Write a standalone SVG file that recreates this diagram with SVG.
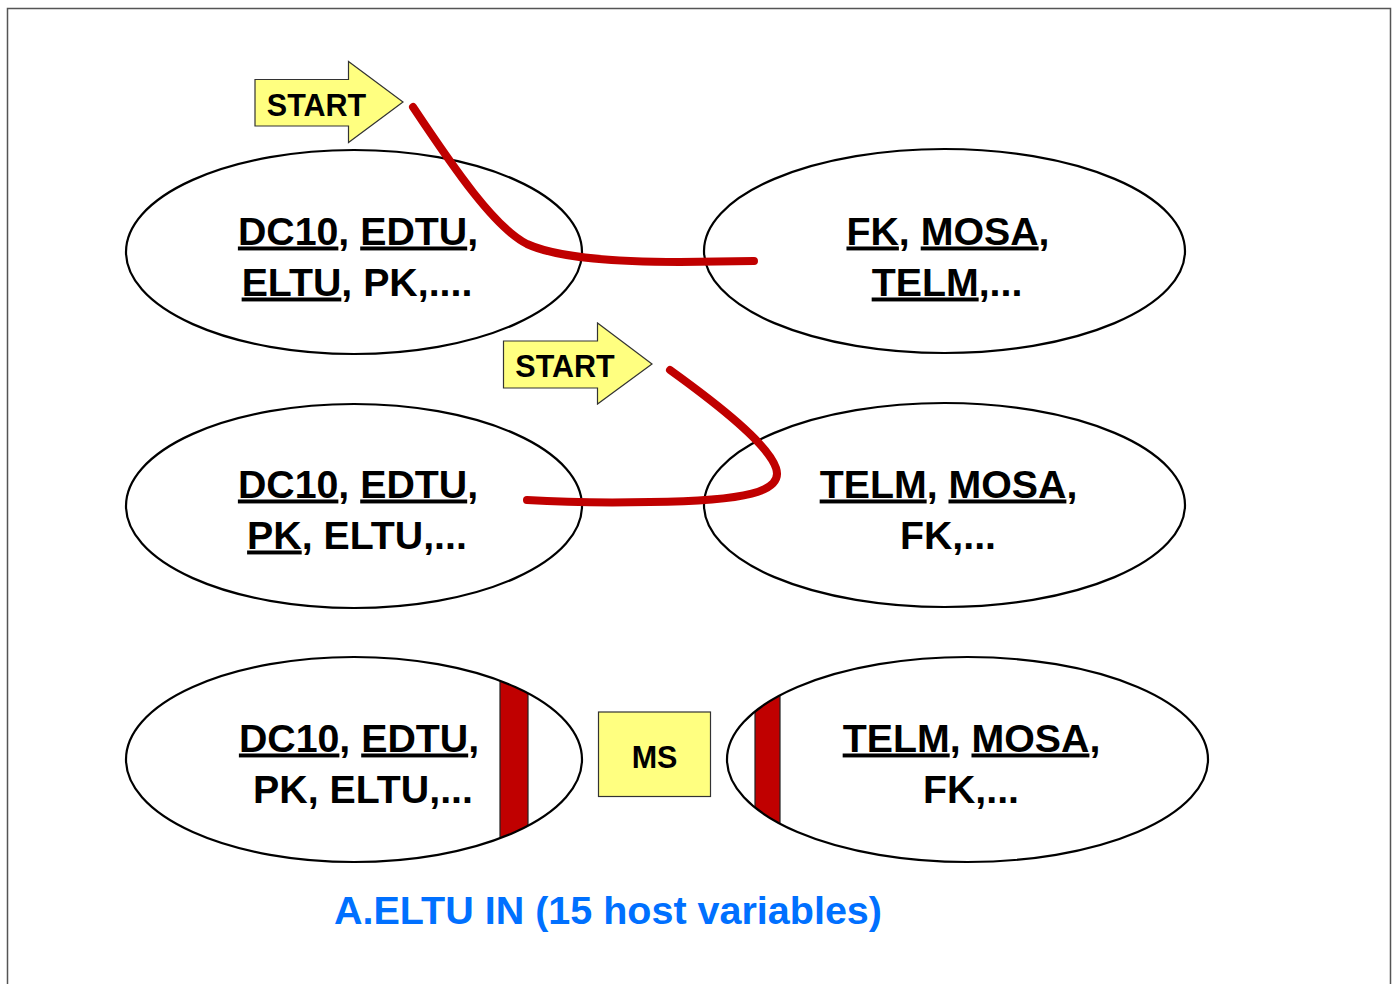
<svg xmlns="http://www.w3.org/2000/svg" width="1396" height="984" viewBox="0 0 1396 984">
  <style>
    .oval { fill: none; stroke: #000; stroke-width: 2.2; }
    .lbl { font-family: "Liberation Sans", Arial, sans-serif; font-weight: bold; font-size: 39.3px; fill: #000; text-anchor: middle; }
    .u { text-decoration: underline; }
    .note { font-family: "Liberation Sans", Arial, sans-serif; font-weight: bold; font-size: 39.5px; fill: #0070FF; text-anchor: middle; }
    .tag { fill: #FFFF80; stroke: #333; stroke-width: 1.2; }
    .tagtxt { font-family: "Liberation Sans", Arial, sans-serif; font-weight: bold; font-size: 30.5px; fill: #000; text-anchor: middle; }
    .trace { fill: none; stroke: #C00000; stroke-width: 8; stroke-linecap: round; stroke-linejoin: round; }
    .bar { fill: #C00000; stroke: #222; stroke-width: 1.2; }
  </style>
  <defs>
    <clipPath id="clipL3"><ellipse cx="354" cy="759.5" rx="228" ry="102.5"/></clipPath>
    <clipPath id="clipR3"><ellipse cx="967.5" cy="759.5" rx="240.5" ry="102.5"/></clipPath>
  </defs>

  <rect width="1396" height="984" fill="#fff"/>
  <!-- page frame -->
  <path d="M7.5,990 V8.5 H1390.5 V990" fill="none" stroke="#555" stroke-width="1.5"/>

  <!-- row 1 -->
  <g id="row1-left">
    <ellipse class="oval" cx="354" cy="252" rx="228" ry="102"/>
    <text class="lbl" x="358" y="244.5"><tspan class="u">DC10</tspan>, <tspan class="u">EDTU</tspan>,</text>
    <text class="lbl" x="357" y="295.5"><tspan class="u">ELTU</tspan>, PK,....</text>
  </g>
  <g id="row1-right">
    <ellipse class="oval" cx="944.5" cy="251" rx="240.5" ry="102"/>
    <text class="lbl" x="948" y="244.5"><tspan class="u">FK</tspan>, <tspan class="u">MOSA</tspan>,</text>
    <text class="lbl" x="947" y="295.5"><tspan class="u">TELM</tspan>,...</text>
  </g>

  <!-- row 2 -->
  <g id="row2-left">
    <ellipse class="oval" cx="354" cy="506" rx="228" ry="102"/>
    <text class="lbl" x="358" y="497.5"><tspan class="u">DC10</tspan>, <tspan class="u">EDTU</tspan>,</text>
    <text class="lbl" x="357" y="548.5"><tspan class="u">PK</tspan>, ELTU,...</text>
  </g>
  <g id="row2-right">
    <ellipse class="oval" cx="944.5" cy="505" rx="240.5" ry="102"/>
    <text class="lbl" x="948.5" y="497.5"><tspan class="u">TELM</tspan>, <tspan class="u">MOSA</tspan>,</text>
    <text class="lbl" x="948" y="548.5">FK,...</text>
  </g>

  <!-- row 3 -->
  <g id="row3-left">
    <rect class="bar" x="500" y="670" width="28" height="180" clip-path="url(#clipL3)"/>
    <ellipse class="oval" cx="354" cy="759.5" rx="228" ry="102.5"/>
    <text class="lbl" x="359" y="751.5"><tspan class="u">DC10</tspan>, <tspan class="u">EDTU</tspan>,</text>
    <text class="lbl" x="363" y="802.5">PK, ELTU,...</text>
  </g>
  <g id="row3-right">
    <rect class="bar" x="755" y="690" width="25" height="140" clip-path="url(#clipR3)"/>
    <ellipse class="oval" cx="967.5" cy="759.5" rx="240.5" ry="102.5"/>
    <text class="lbl" x="971.5" y="751.5"><tspan class="u">TELM</tspan>, <tspan class="u">MOSA</tspan>,</text>
    <text class="lbl" x="971" y="802.5">FK,...</text>
  </g>

  <g id="ms">
    <rect class="tag" x="598.5" y="712" width="112" height="84.5"/>
    <text class="tagtxt" x="654.5" y="768">MS</text>
  </g>

  <!-- start markers -->
  <g id="start1">
    <path class="tag" d="M255,79.5 H348.5 V61.5 L403,102 L348.5,142.5 V126 H255 Z"/>
    <text class="tagtxt" x="316.5" y="115.5">START</text>
  </g>
  <g id="start2">
    <path class="tag" d="M503.5,341 H597.5 V323 L652,364 L597.5,404 V388 H503.5 Z"/>
    <text class="tagtxt" x="565" y="377">START</text>
  </g>

  <!-- traces -->
  <g id="connectors">
    <path class="trace" d="M413,107 C455,170 495,228 527,244 C560,259 620,262 680,262 L754,261"/>
    <path class="trace" d="M670,370 C720,406 768,444 776,468 C784,492 745,501 650,502 C600,503 560,502 527,500"/>
  </g>

  <text class="note" x="608" y="924">A.ELTU IN (15 host variables)</text>
</svg>
